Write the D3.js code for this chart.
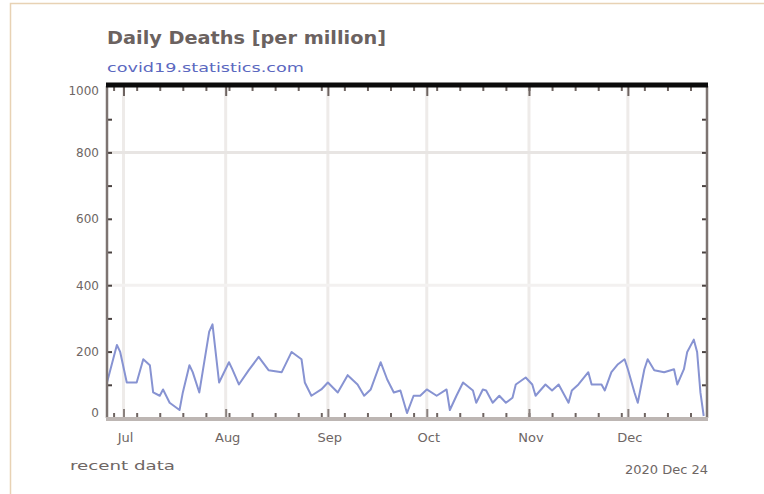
<!DOCTYPE html>
<html><head><meta charset="utf-8">
<script src="https://cdn.jsdelivr.net/npm/d3@7/dist/d3.min.js"></script>
<style>body{margin:0;background:#fff}svg{display:block}</style>
</head><body><div id="chart"></div>
<script>
const title = "Daily Deaths [per million]";
const subtitle = "covid19.statistics.com";
const footLeft = "recent data";
const footRight = "2020 Dec 24";
const yTicks = [0, 200, 400, 600, 800, 1000];
const monthLabels = ["Jul", "Aug", "Sep", "Oct", "Nov", "Dec"];
const monthDates = ["2020-07-01","2020-08-01","2020-09-01","2020-10-01","2020-11-01","2020-12-01"];
const domainDates = ["2020-06-26", "2020-12-25"];
const dates = ["2020-06-26","2020-06-29","2020-06-30","2020-07-02","2020-07-05","2020-07-07","2020-07-09","2020-07-10","2020-07-12","2020-07-13","2020-07-15","2020-07-18","2020-07-19","2020-07-21","2020-07-22","2020-07-24","2020-07-25","2020-07-27","2020-07-28","2020-07-30","2020-08-02","2020-08-03","2020-08-05","2020-08-08","2020-08-11","2020-08-14","2020-08-18","2020-08-21","2020-08-24","2020-08-25","2020-08-27","2020-08-30","2020-09-01","2020-09-04","2020-09-07","2020-09-10","2020-09-12","2020-09-14","2020-09-17","2020-09-19","2020-09-21","2020-09-23","2020-09-25","2020-09-27","2020-09-29","2020-10-01","2020-10-04","2020-10-07","2020-10-08","2020-10-10","2020-10-12","2020-10-15","2020-10-16","2020-10-18","2020-10-19","2020-10-21","2020-10-23","2020-10-25","2020-10-27","2020-10-28","2020-10-31","2020-11-02","2020-11-03","2020-11-06","2020-11-08","2020-11-10","2020-11-13","2020-11-14","2020-11-16","2020-11-19","2020-11-20","2020-11-23","2020-11-24","2020-11-26","2020-11-28","2020-11-30","2020-12-01","2020-12-03","2020-12-04","2020-12-06","2020-12-07","2020-12-09","2020-12-12","2020-12-15","2020-12-16","2020-12-18","2020-12-19","2020-12-21","2020-12-22","2020-12-23","2020-12-24"];
const deaths = [107,220,199,107,107,177,159,77,67,86,46,24,77,159,138,77,138,260,282,107,168,147,101,144,184,144,138,199,177,107,67,86,107,77,129,101,67,86,168,116,77,83,15,67,67,86,67,86,24,67,107,83,46,86,83,46,67,46,61,101,122,101,67,101,83,101,46,83,101,138,101,101,83,138,162,177,147,77,46,147,177,144,138,147,101,147,199,236,199,77,6];

const W = 764, H = 494;
const L = 107, R = 707, T = 86, B = 418;
const parse = d3.utcParse("%Y-%m-%d");
const svg = d3.select("#chart").append("svg").attr("width", W).attr("height", H);

svg.append("rect").attr("x", 10.5).attr("y", 3.5).attr("width", 760).attr("height", 500)
  .attr("fill", "#fff").attr("stroke", "#e8d2b4").attr("stroke-width", 1.5);

const x = d3.scaleUtc().domain(domainDates.map(parse)).range([L, R]);
const y = d3.scaleLinear().domain([0, 1000]).range([B, T]);

// grid
const g = svg.append("g");
g.selectAll("line.vg").data(monthDates).join("line")
  .attr("x1", d => x(parse(d))).attr("x2", d => x(parse(d)))
  .attr("y1", T).attr("y2", B).attr("stroke", "#eeebe9").attr("stroke-width", 3);
[[800, "#e8e5e3"], [400, "#f3f1f0"]].forEach(([v, c]) => {
  g.append("line").attr("x1", L).attr("x2", R).attr("y1", y(v)).attr("y2", y(v))
    .attr("stroke", c).attr("stroke-width", 3);
});

// line
const line = d3.line().x((d, i) => x(parse(dates[i]))).y(d => y(d));
svg.append("path").datum(deaths).attr("d", line).attr("fill", "none")
  .attr("stroke", "#8793d2").attr("stroke-width", 2).attr("stroke-linejoin", "round");

// axes
const weeks = d3.utcWeek.every(1).range(parse("2020-06-27"), parse("2020-12-25"));
const axTop = d3.axisTop(x).tickValues(weeks).tickSize(-5).tickFormat("");
const axTopM = d3.axisTop(x).tickValues(monthDates.map(parse)).tickSize(-10).tickFormat("");
const axBot = d3.axisBottom(x).tickValues(weeks).tickSize(-5).tickFormat("");
const axBotM = d3.axisBottom(x).tickValues(monthDates.map(parse)).tickSize(-9).tickFormat("");
const styleAx = (sel, col) => { sel.select(".domain").remove(); sel.selectAll(".tick line").attr("stroke", col).attr("stroke-width", 2); };
svg.append("g").attr("transform", `translate(0,${T})`).call(axTop).call(s => styleAx(s, "#6e6461"));
svg.append("g").attr("transform", `translate(0,${T})`).call(axTopM).call(s => styleAx(s, "#6e6461"));
svg.append("g").attr("transform", `translate(0,${B})`).call(axBot).call(s => styleAx(s, "#6e6461"));
svg.append("g").attr("transform", `translate(0,${B})`).call(axBotM).call(s => styleAx(s, "#8a817e"));

const minor = d3.range(100, 1000, 100);
const axL = d3.axisLeft(y).tickValues(minor).tickSize(-5).tickFormat("");
const axR = d3.axisRight(y).tickValues(minor).tickSize(-5).tickFormat("");
svg.append("g").attr("transform", `translate(${L},0)`).call(axL).call(s => styleAx(s, "#4a4240"));
svg.append("g").attr("transform", `translate(${R},0)`).call(axR).call(s => styleAx(s, "#4a4240"));

// frame lines
svg.append("line").attr("x1", L).attr("x2", L).attr("y1", T).attr("y2", B).attr("stroke", "#7d7471").attr("stroke-width", 2.5);
svg.append("line").attr("x1", R).attr("x2", R).attr("y1", T).attr("y2", B).attr("stroke", "#7d7471").attr("stroke-width", 2.5);
svg.append("line").attr("x1", L - 1).attr("x2", R + 1).attr("y1", B + 1).attr("y2", B + 1).attr("stroke", "#bdb6b3").attr("stroke-width", 4);
svg.append("line").attr("x1", L - 1).attr("x2", R + 1).attr("y1", T - 1).attr("y2", T - 1).attr("stroke", "#0b0b0b").attr("stroke-width", 5);

// y labels
const yAx = d3.axisLeft(y).tickValues(yTicks).tickSize(0).tickPadding(8).tickFormat(d3.format("d"));
svg.append("g").attr("transform", `translate(${L},0)`).call(yAx)
  .call(s => { s.select(".domain").remove();
    s.selectAll("text").attr("fill", "#6e6664").style("font-family", "DejaVu Sans, sans-serif").style("font-size", "12px")
      .attr("dy", (d) => d === 0 ? "-0.1em" : d === 1000 ? "0.7em" : "0.32em"); });

// month labels
svg.append("g").selectAll("text").data(monthLabels).join("text")
  .attr("x", (d, i) => x(parse(monthDates[i])) + 2).attr("y", 442)
  .attr("text-anchor", "middle").attr("fill", "#6e6664")
  .style("font-family", "DejaVu Sans, sans-serif").style("font-size", "13px").text(d => d);

// titles
svg.append("text").attr("x", L).attr("y", 44).attr("fill", "#6b6260")
  .attr("textLength", 279).attr("lengthAdjust", "spacingAndGlyphs")
  .style("font-family", "DejaVu Sans, sans-serif").style("font-size", "17px").style("font-weight", "bold").text(title);
svg.append("text").attr("x", L).attr("y", 72).attr("fill", "#5b68c0")
  .attr("textLength", 197).attr("lengthAdjust", "spacingAndGlyphs")
  .style("font-family", "DejaVu Sans, sans-serif").style("font-size", "13px").text(subtitle);
svg.append("text").attr("x", 70).attr("y", 470).attr("fill", "#6e6664")
  .attr("textLength", 105).attr("lengthAdjust", "spacingAndGlyphs")
  .style("font-family", "DejaVu Sans, sans-serif").style("font-size", "13px").text(footLeft);
svg.append("text").attr("x", 708).attr("y", 474).attr("text-anchor", "end").attr("fill", "#6e6664")
  .style("font-family", "DejaVu Sans, sans-serif").style("font-size", "13px").text(footRight);
</script></body></html>
